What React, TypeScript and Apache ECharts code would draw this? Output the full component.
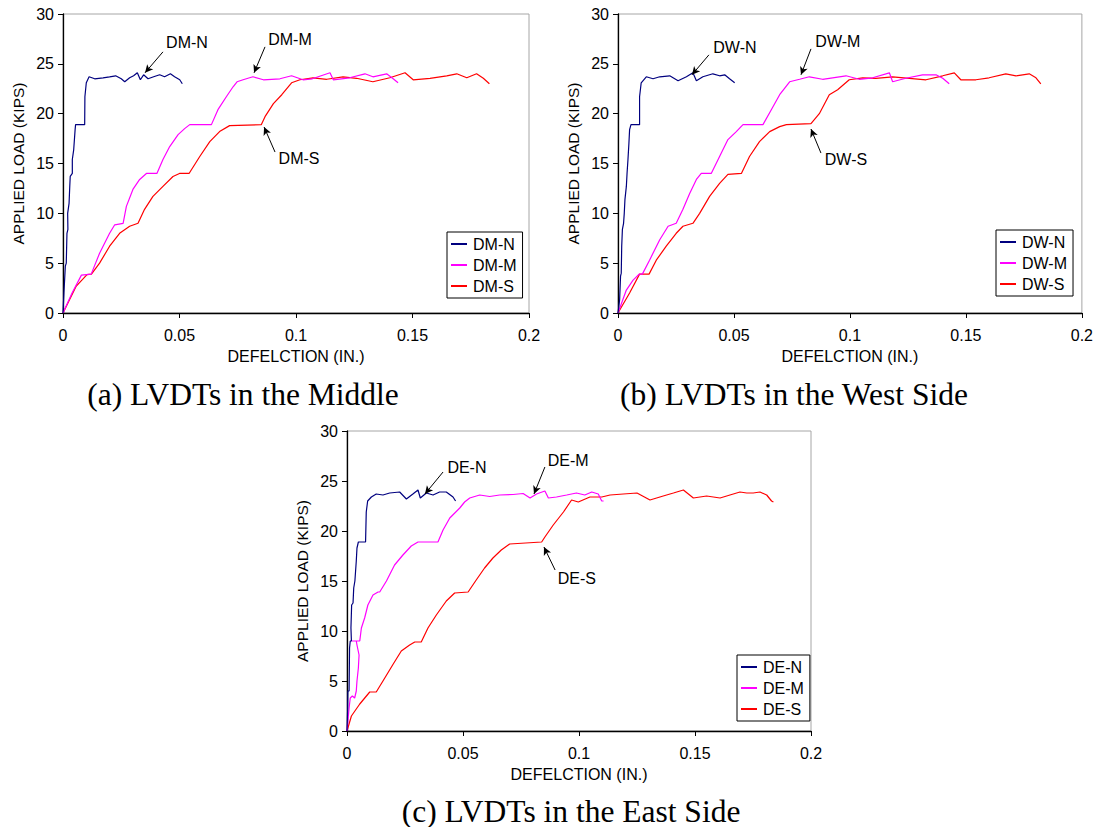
import React, { useEffect, useRef } from "react";
import * as echarts from "echarts";

// ---------- DATA (deflection in., load kips) ----------
const dmN: number[][] = [
  [0, 0], [0.0004, 2.0], [0.001, 4.7], [0.0014, 5.0], [0.0017, 8.0], [0.0021, 8.4], [0.002, 10.0],
  [0.0026, 11.0], [0.0029, 12.7], [0.0031, 13.7], [0.004, 14.0], [0.004, 15.4], [0.0046, 16.4],
  [0.0052, 18.4], [0.0054, 18.9], [0.0093, 18.9], [0.0094, 21.7], [0.01, 23.1], [0.0112, 23.7],
  [0.0136, 23.5], [0.0172, 23.6], [0.02, 23.7], [0.0226, 23.8], [0.025, 23.5], [0.0265, 23.2],
  [0.0286, 23.6], [0.0303, 23.8], [0.0319, 24.1], [0.0332, 23.4], [0.0346, 23.9], [0.0365, 23.5],
  [0.0389, 23.7], [0.0415, 23.9], [0.0436, 23.7], [0.0461, 24.0], [0.0479, 23.7], [0.0501, 23.4],
  [0.0512, 23.0],
];
const dmM: number[][] = [
  [0, 0], [0.0039, 2.0], [0.0079, 3.8], [0.0121, 3.9], [0.0157, 6.0], [0.02, 8.0], [0.0222, 8.85],
  [0.0258, 9.0], [0.0272, 10.7], [0.03, 12.4], [0.0329, 13.4], [0.0358, 14.0], [0.0403, 14.0],
  [0.0429, 15.4], [0.0458, 16.7], [0.0494, 17.9], [0.0522, 18.5], [0.0544, 18.9], [0.0637, 18.9],
  [0.0665, 20.4], [0.0701, 21.7], [0.073, 22.7], [0.0747, 23.2], [0.0773, 23.4], [0.0815, 23.7],
  [0.086, 23.4], [0.0931, 23.5], [0.0981, 23.8], [0.103, 23.4], [0.107, 23.5], [0.1146, 24.1],
  [0.116, 23.4], [0.123, 23.6], [0.1296, 24.0], [0.133, 23.7], [0.1389, 24.0], [0.1417, 23.5],
  [0.1438, 23.1],
];
const dmS: number[][] = [
  [0, 0], [0.0057, 2.7], [0.0103, 3.85], [0.0122, 3.9], [0.0157, 5.0], [0.02, 6.7], [0.0243, 8.0],
  [0.0286, 8.7], [0.0322, 9.0], [0.035, 10.4], [0.0386, 11.7], [0.0429, 12.7], [0.0472, 13.7],
  [0.05, 14.0], [0.0541, 14.0], [0.0587, 15.7], [0.063, 17.2], [0.0672, 18.2], [0.0715, 18.8],
  [0.0851, 18.9], [0.0867, 19.7], [0.0903, 21.0], [0.0939, 21.9], [0.0981, 23.1], [0.1017, 23.4],
  [0.1073, 23.6], [0.1132, 23.45], [0.1202, 23.7], [0.126, 23.55], [0.133, 23.2], [0.1403, 23.6],
  [0.1468, 24.1], [0.1503, 23.4], [0.1575, 23.55], [0.1647, 23.8], [0.169, 24.0], [0.1733, 23.6],
  [0.1775, 24.0], [0.1804, 23.55], [0.183, 23.0],
];

const dwN: number[][] = [
  [0, 0], [0.0007, 1.3], [0.0011, 3.7], [0.0014, 4.0], [0.0016, 6.7], [0.0019, 8.4], [0.0024, 9.0],
  [0.0027, 10.0], [0.003, 11.4], [0.0036, 12.7], [0.0039, 14.0], [0.0043, 15.4], [0.0047, 17.0],
  [0.005, 18.4], [0.0056, 18.9], [0.0093, 18.9], [0.0093, 21.7], [0.01, 23.1], [0.0122, 23.7],
  [0.0151, 23.5], [0.018, 23.7], [0.0223, 23.8], [0.0259, 23.3], [0.0295, 23.7], [0.0323, 24.1],
  [0.0338, 23.3], [0.0366, 23.7], [0.0409, 24.0], [0.0438, 23.8], [0.046, 23.9], [0.0481, 23.5],
  [0.0503, 23.1],
];
const dwM: number[][] = [
  [0, 0], [0.0036, 2.3], [0.0065, 3.3], [0.0091, 3.9], [0.0105, 3.9], [0.0136, 5.3], [0.018, 7.35],
  [0.0216, 8.7], [0.0251, 9.0], [0.028, 10.4], [0.0309, 12.0], [0.0338, 13.4], [0.0359, 14.0],
  [0.0402, 14.0], [0.0438, 15.7], [0.0474, 17.4], [0.051, 18.2], [0.0539, 18.9], [0.0625, 18.9],
  [0.0661, 20.4], [0.0697, 21.9], [0.074, 23.2], [0.0783, 23.45], [0.0825, 23.7], [0.0882, 23.45],
  [0.0983, 23.8], [0.104, 23.45], [0.1098, 23.6], [0.117, 24.1], [0.1184, 23.2], [0.1241, 23.55],
  [0.1313, 23.9], [0.1371, 23.9], [0.14, 23.55], [0.1428, 23.0],
];
const dwS: number[][] = [
  [0, 0], [0.005, 2.0], [0.0093, 3.9], [0.0134, 3.9], [0.0165, 5.3], [0.0208, 6.7], [0.0251, 8.0],
  [0.028, 8.7], [0.0323, 9.0], [0.0352, 10.0], [0.0395, 11.7], [0.0438, 13.0], [0.0474, 13.9],
  [0.0532, 14.0], [0.0567, 15.7], [0.061, 17.2], [0.0654, 18.2], [0.0697, 18.7], [0.0726, 18.9],
  [0.0832, 19.0], [0.0868, 20.0], [0.0911, 21.9], [0.0947, 22.4], [0.0997, 23.4], [0.1055, 23.6],
  [0.1112, 23.55], [0.1184, 23.7], [0.1256, 23.55], [0.1328, 23.4], [0.14, 23.8], [0.145, 24.1],
  [0.1478, 23.4], [0.1543, 23.4], [0.16, 23.6], [0.1672, 24.0], [0.1716, 23.8], [0.1773, 24.0],
  [0.1802, 23.6], [0.1823, 23.0],
];

const deN: number[][] = [
  [0, 0], [0.0003, 2.3], [0.0004, 4.0], [0.0009, 4.0], [0.0011, 8.3], [0.0014, 9.0], [0.0019, 9.0],
  [0.0017, 10.3], [0.002, 12.6], [0.0026, 12.8], [0.0029, 14.3], [0.0034, 15.0], [0.004, 17.0],
  [0.0043, 18.3], [0.0049, 18.9], [0.008, 18.9], [0.0083, 21.9], [0.0089, 23.0], [0.0105, 23.4],
  [0.0126, 23.7], [0.0155, 23.6], [0.0184, 23.8], [0.0227, 23.9], [0.0256, 23.2], [0.0284, 23.7],
  [0.0306, 24.1], [0.0316, 23.3], [0.0342, 23.8], [0.0371, 23.6], [0.0399, 23.9], [0.0428, 23.9],
  [0.0457, 23.4], [0.0468, 23.0],
];
const deM: number[][] = [
  [0, 0], [0.0009, 2.3], [0.0014, 3.3], [0.0023, 3.5], [0.0033, 3.3], [0.004, 4.0], [0.0043, 5.0],
  [0.0049, 6.3], [0.0052, 7.6], [0.0043, 8.6], [0.004, 9.0], [0.0019, 9.0], [0.0055, 9.0],
  [0.0062, 10.3], [0.0076, 11.3], [0.009, 12.6], [0.0112, 13.6], [0.0134, 13.9], [0.0141, 13.9],
  [0.017, 15.0], [0.0205, 16.6], [0.0241, 17.6], [0.0277, 18.5], [0.0306, 18.9], [0.0392, 18.9],
  [0.0414, 20.1], [0.0443, 21.3], [0.0486, 22.3], [0.0507, 22.9], [0.0529, 23.3], [0.0572, 23.6],
  [0.0615, 23.45], [0.0658, 23.6], [0.0716, 23.65], [0.0759, 23.75], [0.0789, 23.3], [0.0817, 23.7],
  [0.0853, 24.0], [0.0868, 23.3], [0.0903, 23.4], [0.0947, 23.6], [0.0989, 23.8], [0.1025, 23.6],
  [0.1055, 23.9], [0.1083, 23.7], [0.1098, 23.0], [0.1106, 23.0],
];
const deS: number[][] = [
  [0, 0], [0.0019, 1.5], [0.0055, 2.7], [0.0098, 3.9], [0.0126, 3.9], [0.0155, 5.0], [0.0198, 6.65],
  [0.0234, 8.0], [0.027, 8.6], [0.0292, 8.9], [0.032, 8.9], [0.0349, 10.3], [0.0385, 11.6],
  [0.0428, 13.0], [0.0464, 13.8], [0.0522, 13.9], [0.0557, 15.1], [0.0593, 16.3], [0.0629, 17.3],
  [0.0665, 18.1], [0.0701, 18.7], [0.0839, 18.9], [0.0853, 19.4], [0.0889, 20.6], [0.0933, 21.9],
  [0.0968, 23.1], [0.0997, 22.9], [0.1047, 23.4], [0.1098, 23.4], [0.1134, 23.6], [0.1191, 23.7],
  [0.125, 23.8], [0.1306, 23.1], [0.1363, 23.5], [0.1407, 23.8], [0.145, 24.1], [0.1493, 23.3],
  [0.155, 23.5], [0.1608, 23.3], [0.1665, 23.7], [0.1694, 23.9], [0.1723, 23.8], [0.1751, 23.8],
  [0.178, 23.9], [0.1809, 23.6], [0.183, 23.0], [0.1838, 22.9],
];

const xTicks = ["0", "0.05", "0.1", "0.15", "0.2"];
const yTicks = ["0", "5", "10", "15", "20", "25", "30"];

const panelTitles = ["(a) LVDTs in the Middle", "(b) LVDTs in the West Side", "(c) LVDTs in the East Side"];
const seriesNames = [
  ["DM-N", "DM-M", "DM-S"],
  ["DW-N", "DW-M", "DW-S"],
  ["DE-N", "DE-M", "DE-S"],
];
const seriesData = [
  [dmN, dmM, dmS],
  [dwN, dwM, dwS],
  [deN, deM, deS],
];
// annotation: label position, arrow start, arrow tip (data coords)
const annotations = [
  [
    { text: [0.0532, 27.1], from: [0.0429, 26.2], to: [0.0352, 24.1] },
    { text: [0.0974, 27.4], from: [0.0867, 26.7], to: [0.082, 24.1] },
    { text: [0.1013, 15.55], from: [0.091, 16.15], to: [0.0863, 18.66] },
  ],
  [
    { text: [0.0504, 26.6], from: [0.0392, 25.9], to: [0.0319, 23.9] },
    { text: [0.0948, 27.2], from: [0.0832, 26.5], to: [0.0789, 23.9] },
    { text: [0.0983, 15.45], from: [0.0875, 16.05], to: [0.0832, 18.46] },
  ],
  [
    { text: [0.0517, 26.4], from: [0.0414, 25.9], to: [0.0336, 23.7] },
    { text: [0.0953, 27.1], from: [0.0853, 26.4], to: [0.0806, 23.7] },
    { text: [0.0991, 15.3], from: [0.0897, 16.1], to: [0.0849, 18.4] },
  ],
];

const colors = ["#00007F", "#FF00FF", "#FF0000"];
const SANS = "'Liberation Sans', Arial, sans-serif";
const SERIF = "'Liberation Serif', 'Times New Roman', serif";

const grids = [
  { left: 63, top: 14, width: 466, height: 299 },
  { left: 618, top: 14, width: 464, height: 299 },
  { left: 347, top: 431, width: 464, height: 300 },
];
const legendPos = [
  { left: 447, top: 232 },
  { left: 996, top: 230 },
  { left: 737, top: 655 },
];
const titlePos = [
  { left: 238, top: 373 },
  { left: 789, top: 373 },
  { left: 566, top: 790 },
];

function buildOption() {
  const xAxis: any[] = [];
  const yAxis: any[] = [];
  const series: any[] = [];
  const legend: any[] = [];
  const title: any[] = [];

  grids.forEach((g, i) => {
    xAxis.push({
      type: "value",
      gridIndex: i,
      min: 0,
      max: 0.2,
      interval: 0.05,
      name: "DEFELCTION (IN.)",
      nameLocation: "middle",
      nameGap: 35,
      nameTextStyle: { fontFamily: SANS, fontSize: 16, color: "#000" },
      axisLine: { show: true, onZero: false, lineStyle: { color: "#000", width: 1.3 } },
      axisTick: { show: true, inside: false, length: 5, lineStyle: { color: "#000" } },
      axisLabel: {
        fontFamily: SANS,
        fontSize: 16,
        color: "#000",
        margin: 14,
        formatter: (v: number) => xTicks[Math.round(v / 0.05)] ?? "",
      },
      splitLine: { show: false },
    });
    yAxis.push({
      type: "value",
      gridIndex: i,
      min: 0,
      max: 30,
      interval: 5,
      name: "APPLIED LOAD (KIPS)",
      nameLocation: "middle",
      nameGap: 37,
      nameTextStyle: { fontFamily: SANS, fontSize: 15.5, color: "#000" },
      axisLine: { show: true, onZero: false, lineStyle: { color: "#000", width: 1.3 } },
      axisTick: { show: true, inside: false, length: 5, lineStyle: { color: "#000" } },
      axisLabel: {
        fontFamily: SANS,
        fontSize: 16,
        color: "#000",
        margin: 9,
        formatter: (v: number) => yTicks[Math.round(v / 5)] ?? "",
      },
      splitLine: { show: false },
    });

    seriesNames[i].forEach((name, k) => {
      const ann = annotations[i][k];
      series.push({
        type: "line",
        name,
        xAxisIndex: i,
        yAxisIndex: i,
        data: seriesData[i][k],
        symbol: "none",
        showSymbol: false,
        color: colors[k],
        lineStyle: { color: colors[k], width: 1.2 },
        z: 3 - k,
        markPoint: {
          silent: true,
          symbol: "rect",
          symbolSize: 1,
          itemStyle: { color: "rgba(0,0,0,0)" },
          label: {
            show: true,
            position: "inside",
            formatter: name,
            fontFamily: SANS,
            fontSize: 16,
            color: "#000",
          },
          data: [{ coord: ann.text, name }],
        },
        markLine: {
          silent: true,
          symbol: ["none", "arrow"],
          symbolSize: [6, 8],
          label: { show: false },
          lineStyle: { color: "#000", width: 1, type: "solid" },
          data: [[{ coord: ann.from }, { coord: ann.to }]],
        },
      });
    });

    legend.push({
      data: seriesNames[i],
      orient: "vertical",
      left: legendPos[i].left,
      top: legendPos[i].top,
      icon: "rect",
      itemWidth: 16,
      itemHeight: 2,
      itemGap: 3,
      padding: [3, 6, 3, 4],
      borderColor: "#000",
      borderWidth: 1,
      backgroundColor: "#fff",
      selectedMode: false,
      textStyle: { fontFamily: SANS, fontSize: 16, color: "#000", lineHeight: 18, padding: [0, 0, 0, 1] },
    });

    title.push({
      text: panelTitles[i],
      left: titlePos[i].left,
      top: titlePos[i].top,
      textAlign: "center",
      textStyle: { fontFamily: SERIF, fontSize: 31.5, fontWeight: "normal", color: "#000" },
    });
  });

  return {
    animation: false,
    backgroundColor: "#fff",
    title,
    legend,
    grid: grids.map((g) => ({ ...g, show: true, borderColor: "#a6a6a6", borderWidth: 1, backgroundColor: "transparent" })),
    xAxis,
    yAxis,
    series,
  };
}

export default function App() {
  const ref = useRef<HTMLDivElement>(null);
  useEffect(() => {
    if (!ref.current) return;
    const chart = echarts.init(ref.current, null, { renderer: "svg" });
    chart.setOption(buildOption() as any);
    return () => chart.dispose();
  }, []);
  return (
    <div
      ref={ref}
      style={{ position: "absolute", left: 0, top: 0, width: "1096px", height: "827px", background: "#fff" }}
    />
  );
}
